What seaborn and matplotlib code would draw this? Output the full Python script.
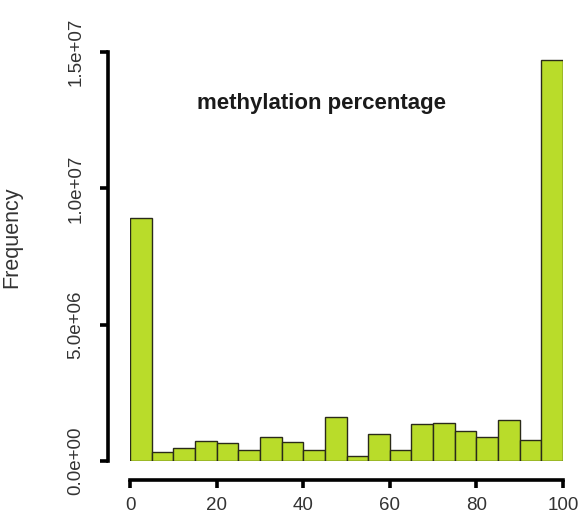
import numpy as np
import pandas as pd
import matplotlib
matplotlib.use("Agg")
import matplotlib.pyplot as plt
import seaborn as sns

# Data (bins of width 5 from 0 to 100)
bin_edges = [0, 5, 10, 15, 20, 25, 30, 35, 40, 45, 50, 55, 60, 65, 70, 75, 80, 85, 90, 95, 100]
bin_counts = [8.9e6, 0.33e6, 0.49e6, 0.75e6, 0.66e6, 0.39e6, 0.89e6, 0.68e6, 0.41e6, 1.6e6,
              0.17e6, 0.98e6, 0.39e6, 1.34e6, 1.40e6, 1.11e6, 0.87e6, 1.5e6, 0.77e6, 14.7e6]
x_ticks = [0, 20, 40, 60, 80, 100]
y_ticks = [0, 5e6, 1e7, 1.5e7]
y_tick_labels = ["0.0e+00", "5.0e+06", "1.0e+07", "1.5e+07"]
title_text = "methylation percentage"
y_label = "Frequency"

sns.set_style("white")
plt.rcParams["font.family"] = ["Liberation Sans", "DejaVu Sans"]

W, H = 582, 514
fig = plt.figure(figsize=(W / 100, H / 100), dpi=100)
x0, x1 = 130, 563
y0, y1 = 461, 52
ax = fig.add_axes([x0 / W, (H - y0) / H, (x1 - x0) / W, (y0 - y1) / H])

centers = [(bin_edges[i] + bin_edges[i + 1]) / 2 for i in range(len(bin_counts))]
df = pd.DataFrame({"pct": centers, "n": bin_counts})
sns.histplot(data=df, x="pct", weights="n", bins=bin_edges, ax=ax,
             color="#b9dc2a", alpha=1.0, edgecolor="#2a2a1a", linewidth=1.0)

ax.set_xlim(0, 100)
ax.set_ylim(0, 1.5e7)
ax.set_xlabel("")
ax.set_ylabel(y_label, fontsize=15.5, color="#333333")
ax.yaxis.set_label_coords(22 / W, (H - 237) / H, transform=fig.transFigure)

for s in ["top", "right"]:
    ax.spines[s].set_visible(False)
ax.spines["left"].set_position(("outward", 22 * 0.72))
ax.spines["bottom"].set_position(("outward", 19 * 0.72))
ax.spines["left"].set_bounds(0, 1.5e7)
ax.spines["bottom"].set_bounds(0, 100)
for s in ["left", "bottom"]:
    ax.spines[s].set_linewidth(2.6)
    ax.spines[s].set_color("black")

ax.set_xticks(x_ticks)
ax.set_xticklabels([str(t) for t in x_ticks])
ax.set_yticks(y_ticks)
ax.set_yticklabels(y_tick_labels, rotation=90, va="center")
ax.tick_params(axis="both", which="major", direction="out", length=6, width=2.6,
               labelsize=13.5, labelcolor="#333333", color="black",
               left=True, bottom=True)
ax.tick_params(axis="y", pad=11)
ax.tick_params(axis="x", pad=6)

ax.text(0.443, 0.875, title_text, transform=ax.transAxes, ha="center", va="center",
        fontsize=16, fontweight="bold", color="#1a1a1a")

fig.savefig("out.png", dpi=100)
